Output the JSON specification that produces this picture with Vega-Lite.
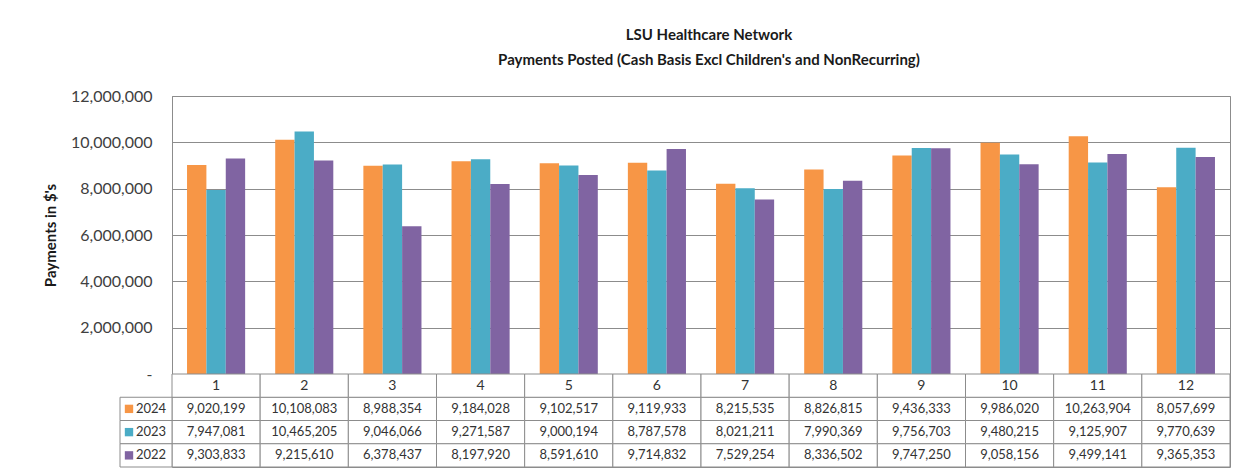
{
  "$schema": "https://vega.github.io/schema/vega-lite/v6.json",
  "padding": {"top": 27, "left": 42, "right": 5, "bottom": 5},
  "bounds": "flush",
  "config": {
    "font": "Lato",
    "view": {"stroke": "#8c8c8c"},
    "concat": {"spacing": 0}
  },
  "data": {
    "values": [
      {"Month": 1, "Year": "2024", "Value": 9020199},
      {"Month": 1, "Year": "2023", "Value": 7947081},
      {"Month": 1, "Year": "2022", "Value": 9303833},
      {"Month": 2, "Year": "2024", "Value": 10108083},
      {"Month": 2, "Year": "2023", "Value": 10465205},
      {"Month": 2, "Year": "2022", "Value": 9215610},
      {"Month": 3, "Year": "2024", "Value": 8988354},
      {"Month": 3, "Year": "2023", "Value": 9046066},
      {"Month": 3, "Year": "2022", "Value": 6378437},
      {"Month": 4, "Year": "2024", "Value": 9184028},
      {"Month": 4, "Year": "2023", "Value": 9271587},
      {"Month": 4, "Year": "2022", "Value": 8197920},
      {"Month": 5, "Year": "2024", "Value": 9102517},
      {"Month": 5, "Year": "2023", "Value": 9000194},
      {"Month": 5, "Year": "2022", "Value": 8591610},
      {"Month": 6, "Year": "2024", "Value": 9119933},
      {"Month": 6, "Year": "2023", "Value": 8787578},
      {"Month": 6, "Year": "2022", "Value": 9714832},
      {"Month": 7, "Year": "2024", "Value": 8215535},
      {"Month": 7, "Year": "2023", "Value": 8021211},
      {"Month": 7, "Year": "2022", "Value": 7529254},
      {"Month": 8, "Year": "2024", "Value": 8826815},
      {"Month": 8, "Year": "2023", "Value": 7990369},
      {"Month": 8, "Year": "2022", "Value": 8336502},
      {"Month": 9, "Year": "2024", "Value": 9436333},
      {"Month": 9, "Year": "2023", "Value": 9756703},
      {"Month": 9, "Year": "2022", "Value": 9747250},
      {"Month": 10, "Year": "2024", "Value": 9986020},
      {"Month": 10, "Year": "2023", "Value": 9480215},
      {"Month": 10, "Year": "2022", "Value": 9058156},
      {"Month": 11, "Year": "2024", "Value": 10263904},
      {"Month": 11, "Year": "2023", "Value": 9125907},
      {"Month": 11, "Year": "2022", "Value": 9499141},
      {"Month": 12, "Year": "2024", "Value": 8057699},
      {"Month": 12, "Year": "2023", "Value": 9770639},
      {"Month": 12, "Year": "2022", "Value": 9365353}
    ]
  },
  "resolve": {"scale": {"x": "independent", "y": "independent", "color": "shared"}},
  "vconcat": [
    {
      "width": 1058,
      "height": 278,
      "title": {
        "text": ["LSU Healthcare Network", "Payments Posted (Cash Basis Excl Children's and NonRecurring)"],
        "fontSize": 15,
        "fontWeight": "bold",
        "color": "#1a1a1a",
        "anchor": "middle",
        "lineHeight": 25,
        "offset": 20,
        "dx": 8
      },
      "mark": {"type": "bar"},
      "encoding": {
        "x": {"field": "Month", "type": "ordinal", "axis": null, "scale": {"paddingInner": 0, "paddingOuter": 0}},
        "xOffset": {"field": "Year", "type": "nominal", "scale": {"domain": ["2024", "2023", "2022"], "paddingInner": 0, "paddingOuter": 0.776}},
        "y": {
          "field": "Value",
          "type": "quantitative",
          "scale": {"domain": [0, 12000000], "nice": false},
          "axis": {
            "values": [0, 2000000, 4000000, 6000000, 8000000, 10000000, 12000000],
            "labelExpr": "datum.value == 0 ? '-\u00a0\u00a0\u00a0' : format(datum.value, ',')",
            "title": "Payments in $'s",
            "titleFontSize": 15,
            "titleFontWeight": "bold",
            "titleColor": "#1a1a1a",
            "titlePadding": 12,
            "labelFontSize": 16,
            "labelColor": "#404040",
            "labelPadding": 20,
            "ticks": false,
            "domainColor": "#8c8c8c",
            "gridColor": "#8c8c8c",
            "gridOpacity": 1
          }
        },
        "color": {"field": "Year", "type": "nominal", "scale": {"domain": ["2024", "2023", "2022"], "range": ["#F79646", "#4BACC6", "#8064A2"]}, "legend": null}
      }
    },
    {
      "width": 1058,
      "height": 93,
      "resolve": {"scale": {"x": "independent"}},
      "layer": [
        {
          "mark": {"type": "rect", "fill": "white", "stroke": "#8c8c8c", "strokeWidth": 1},
          "encoding": {
            "x": {"field": "Month", "type": "ordinal", "axis": null, "scale": {"paddingInner": 0, "paddingOuter": 0}},
            "y": {"field": "Year", "type": "nominal", "axis": null, "scale": {"domain": ["hdr", "2024", "2023", "2022"], "paddingInner": 0, "paddingOuter": 0}}
          }
        },
        {
          "transform": [{"filter": "datum.Year == '2024'"}],
          "mark": {"type": "rect", "fill": "white", "stroke": "#8c8c8c", "strokeWidth": 1},
          "encoding": {
            "x": {"field": "Month", "type": "ordinal", "axis": null, "scale": {"paddingInner": 0, "paddingOuter": 0}},
            "y": {"datum": "hdr", "type": "nominal"}
          }
        },
        {
          "transform": [{"filter": "datum.Year == '2024'"}],
          "mark": {"type": "text", "fontSize": 14, "color": "#333333"},
          "encoding": {
            "x": {"field": "Month", "type": "ordinal", "axis": null, "scale": {"paddingInner": 0, "paddingOuter": 0}},
            "y": {"datum": "hdr", "type": "nominal"},
            "text": {"field": "Month", "type": "ordinal"}
          }
        },
        {
          "mark": {"type": "text", "fontSize": 13, "color": "#333333"},
          "encoding": {
            "x": {"field": "Month", "type": "ordinal", "axis": null, "scale": {"paddingInner": 0, "paddingOuter": 0}},
            "y": {"field": "Year", "type": "nominal"},
            "text": {"field": "Value", "type": "quantitative", "format": ",d"}
          }
        },
        {
          "transform": [{"filter": "datum.Month == 1"}],
          "mark": {"type": "rect", "fill": "white", "stroke": "#8c8c8c", "strokeWidth": 1},
          "encoding": {
            "x": {"datum": "L", "type": "nominal", "axis": null, "scale": {"domain": ["L"], "range": [-52, 0], "paddingInner": 0, "paddingOuter": 0}},
            "y": {"field": "Year", "type": "nominal"}
          }
        },
        {
          "transform": [{"filter": "datum.Month == 1"}],
          "mark": {"type": "point", "shape": "square", "filled": true, "size": 70, "opacity": 1},
          "encoding": {
            "x": {"datum": "sq", "type": "nominal", "axis": null, "scale": {"type": "point", "domain": ["sq", "yr"], "range": [-43, -21], "padding": 0}},
            "y": {"field": "Year", "type": "nominal"},
            "color": {"field": "Year", "type": "nominal", "legend": null}
          }
        },
        {
          "transform": [{"filter": "datum.Month == 1"}],
          "mark": {"type": "text", "fontSize": 13, "color": "#333333"},
          "encoding": {
            "x": {"datum": "yr", "type": "nominal", "axis": null, "scale": {"type": "point", "domain": ["sq", "yr"], "range": [-43, -21], "padding": 0}},
            "y": {"field": "Year", "type": "nominal"},
            "text": {"field": "Year", "type": "nominal"}
          }
        }
      ]
    }
  ]
}
